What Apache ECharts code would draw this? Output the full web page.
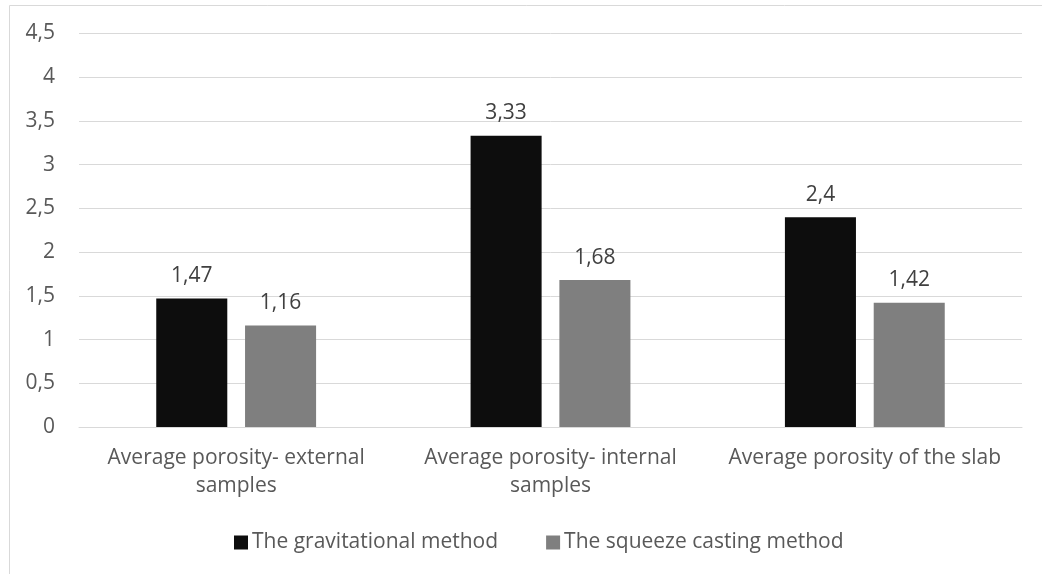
<!DOCTYPE html>
<html>
<head>
<meta charset="utf-8">
<script src="https://cdn.jsdelivr.net/npm/echarts@6/dist/echarts.min.js"></script>
<style>
html,body{margin:0;padding:0;background:#fff;}
#chart{width:1042px;height:574px;}
</style>
</head>
<body>
<div id="chart"></div>
<script>
const categories = ['Average porosity- external\nsamples', 'Average porosity- internal\nsamples', 'Average porosity of the slab'];
const seriesNames = ['The gravitational method', 'The squeeze casting method'];
const gravitational = [1.47, 3.33, 2.4];
const squeeze = [1.16, 1.68, 1.42];

const fmt = v => String(v).replace('.', ',');
const FONT = 'Open Sans';
const FS = 21;

const chart = echarts.init(document.getElementById('chart'), null, {renderer: 'canvas'});
chart.setOption({
  animation: false,
  backgroundColor: '#fff',
  textStyle: {fontFamily: FONT},
  graphic: [{
    type: 'rect',
    shape: {x: 9.5, y: 5.5, width: 1040, height: 620},
    style: {fill: 'none', stroke: '#d9d9d9', lineWidth: 1},
    silent: true, z: -1
  }],
  grid: {left: 79, right: 20, top: 33.5, bottom: 147, containLabel: false},
  legend: {
    data: seriesNames,
    left: 229,
    top: 527,
    itemWidth: 14,
    itemHeight: 14,
    itemGap: 48,
    icon: 'rect',
    textStyle: {fontFamily: FONT, fontSize: FS, color: '#595959', padding: [0, 0, 0, -1]}
  },
  xAxis: {
    type: 'category',
    data: categories,
    axisLine: {lineStyle: {color: '#d9d9d9', width: 1}},
    axisTick: {show: false},
    axisLabel: {fontFamily: FONT, fontSize: FS, color: '#595959', margin: 17, lineHeight: 28, interval: 0}
  },
  yAxis: {
    type: 'value',
    min: 0, max: 4.5, interval: 0.5,
    axisLine: {show: false},
    axisTick: {show: false},
    splitLine: {lineStyle: {color: '#d9d9d9', width: 1}},
    axisLabel: {fontFamily: FONT, fontSize: FS, color: '#595959', margin: 24, formatter: v => fmt(v)}
  },
  series: [
    {
      name: seriesNames[0], type: 'bar', data: gravitational,
      barWidth: '22.6%', barGap: '25%',
      itemStyle: {color: '#0d0d0d'},
      label: {show: true, position: 'top', distance: 12, fontFamily: FONT, fontSize: FS, color: '#404040', formatter: p => fmt(p.value)}
    },
    {
      name: seriesNames[1], type: 'bar', data: squeeze,
      barWidth: '22.6%', barGap: '25%',
      itemStyle: {color: '#7f7f7f'},
      label: {show: true, position: 'top', distance: 12, fontFamily: FONT, fontSize: FS, color: '#404040', formatter: p => fmt(p.value)}
    }
  ]
});
</script>
</body>
</html>
